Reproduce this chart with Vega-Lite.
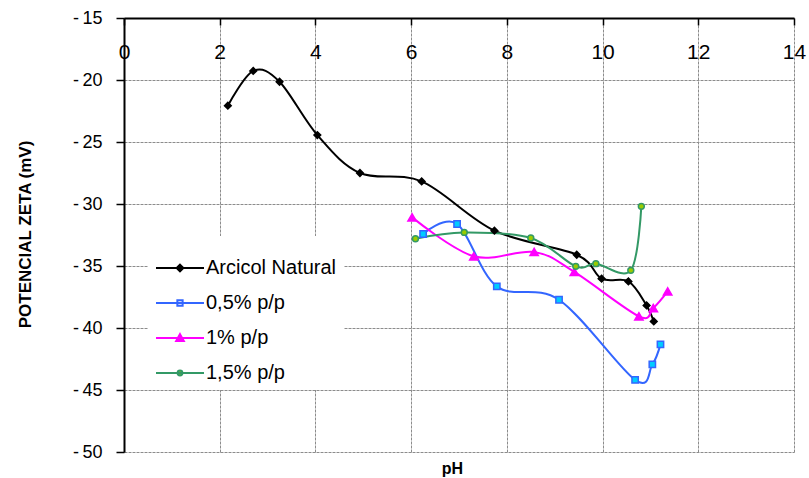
{
  "$schema": "https://vega.github.io/schema/vega-lite/v6.json",
  "width": 670,
  "height": 434,
  "autosize": {"type": "none"},
  "padding": {"left": 124, "top": 18, "right": 15, "bottom": 26},
  "background": "white",
  "config": {"view": {"stroke": null}, "font": "Liberation Sans"},
  "data": {
    "values": [
      {"serie": "Arcicol Natural", "pH": 2.17, "zeta": -22.07},
      {"serie": "Arcicol Natural", "pH": 2.70, "zeta": -19.27},
      {"serie": "Arcicol Natural", "pH": 3.25, "zeta": -20.14},
      {"serie": "Arcicol Natural", "pH": 4.04, "zeta": -24.44},
      {"serie": "Arcicol Natural", "pH": 4.93, "zeta": -27.50},
      {"serie": "Arcicol Natural", "pH": 6.22, "zeta": -28.18},
      {"serie": "Arcicol Natural", "pH": 7.74, "zeta": -32.15},
      {"serie": "Arcicol Natural", "pH": 9.46, "zeta": -34.09},
      {"serie": "Arcicol Natural", "pH": 9.98, "zeta": -36.02},
      {"serie": "Arcicol Natural", "pH": 10.54, "zeta": -36.24},
      {"serie": "Arcicol Natural", "pH": 10.92, "zeta": -38.18},
      {"serie": "Arcicol Natural", "pH": 11.07, "zeta": -39.47},
      {"serie": "0,5% p/p", "pH": 6.25, "zeta": -32.42},
      {"serie": "0,5% p/p", "pH": 6.96, "zeta": -31.61},
      {"serie": "0,5% p/p", "pH": 7.79, "zeta": -36.64},
      {"serie": "0,5% p/p", "pH": 9.09, "zeta": -37.72},
      {"serie": "0,5% p/p", "pH": 10.68, "zeta": -44.19},
      {"serie": "0,5% p/p", "pH": 11.04, "zeta": -42.94},
      {"serie": "0,5% p/p", "pH": 11.21, "zeta": -41.32},
      {"serie": "1% p/p", "pH": 6.02, "zeta": -31.08},
      {"serie": "1% p/p", "pH": 7.31, "zeta": -34.22},
      {"serie": "1% p/p", "pH": 8.57, "zeta": -33.87},
      {"serie": "1% p/p", "pH": 9.41, "zeta": -35.48},
      {"serie": "1% p/p", "pH": 10.76, "zeta": -39.06},
      {"serie": "1% p/p", "pH": 11.06, "zeta": -38.39},
      {"serie": "1% p/p", "pH": 11.36, "zeta": -37.05},
      {"serie": "1,5% p/p", "pH": 6.09, "zeta": -32.80},
      {"serie": "1,5% p/p", "pH": 7.11, "zeta": -32.29},
      {"serie": "1,5% p/p", "pH": 8.50, "zeta": -32.74},
      {"serie": "1,5% p/p", "pH": 9.44, "zeta": -35.03},
      {"serie": "1,5% p/p", "pH": 9.86, "zeta": -34.81},
      {"serie": "1,5% p/p", "pH": 10.59, "zeta": -35.35},
      {"serie": "1,5% p/p", "pH": 10.81, "zeta": -30.19}
    ]
  },
  "encoding": {
    "x": {
      "field": "pH",
      "type": "quantitative",
      "scale": {"domain": [0, 14], "nice": false, "zero": false},
      "axis": {
        "orient": "top",
        "values": [0, 2, 4, 6, 8, 10, 12, 14],
        "title": "pH",
        "titleFontSize": 16,
        "titleFontWeight": "bold",
        "titleColor": "black",
        "titleX": 328,
        "titleY": 450,
        "titleAlign": "center",
        "titleBaseline": "middle",
        "titleAngle": 0,
        "labelFontSize": 21,
        "labelColor": "black",
        "labelFlush": false,
        "labelOverlap": false,
        "labelBaseline": "middle",
        "labelPadding": -27,
        "tickSize": -7,
        "tickColor": "black",
        "tickWidth": 1.5,
        "domainColor": "black",
        "domainWidth": 2,
        "grid": true,
        "gridColor": "#8c8c8c",
        "gridDash": [3, 1],
        "gridWidth": 1
      }
    },
    "y": {
      "field": "zeta",
      "type": "quantitative",
      "scale": {"domain": [-50, -15], "nice": false, "zero": false},
      "axis": {
        "values": [-50, -45, -40, -35, -30, -25, -20, -15],
        "labelExpr": "replace(datum.label, '\u2212', '-\u2009')",
        "title": "POTENCIAL ZETA (mV)",
        "titleFontSize": 17,
        "titleFontWeight": "bold",
        "titleColor": "black",
        "titleX": -99,
        "titleY": 216,
        "titleAlign": "center",
        "titleBaseline": "middle",
        "titleAngle": -90,
        "labelFontSize": 18,
        "labelColor": "black",
        "labelPadding": 14,
        "labelFlush": false,
        "labelOverlap": false,
        "tickSize": 8,
        "tickColor": "black",
        "tickWidth": 1.5,
        "domainColor": "black",
        "domainWidth": 2,
        "grid": true,
        "gridColor": "#8c8c8c",
        "gridDash": [3, 1],
        "gridWidth": 1
      }
    },
    "stroke": {
      "field": "serie",
      "type": "nominal",
      "scale": {
        "domain": ["Arcicol Natural", "0,5% p/p", "1% p/p", "1,5% p/p"],
        "range": ["#000000", "#3366ff", "#ff00ff", "#339966"]
      },
      "legend": {
        "title": null,
        "orient": "none",
        "legendX": 24,
        "legendY": 218,
        "fillColor": "white",
        "padding": 7,
        "symbolSize": 2304,
        "symbolStrokeWidth": 2,
        "symbolType": "M-1,0H1",
        "labelFontSize": 20,
        "labelFont": "Liberation Sans",
        "labelColor": "black",
        "labelOffset": 1,
        "rowPadding": 0,
        "encode": {
          "symbols": {
            "update": {
              "shape": [
                {"test": "datum.value === 'Arcicol Natural'", "value": "M-1,0H1M0,-0.14L0.14,0L0,0.14L-0.14,0Z"},
                {"test": "datum.value === '0,5% p/p'", "value": "M-1,0H1M-0.11,-0.11H0.11V0.11H-0.11Z"},
                {"test": "datum.value === '1% p/p'", "value": "M-1,0H1M0,-0.16L0.16,0.13H-0.16Z"},
                {"value": "M-1,0H1M-0.1,0A0.1,0.1,0,1,0,0.1,0A0.1,0.1,0,1,0,-0.1,0Z"}
              ],
              "fill": [
                {"test": "datum.value === 'Arcicol Natural'", "value": "#000000"},
                {"test": "datum.value === '0,5% p/p'", "value": "#ffffff"},
                {"test": "datum.value === '1% p/p'", "value": "#ff00ff"},
                {"value": "#99cc00"}
              ],
              "fillOpacity": {"value": 1}
            }
          }
        }
      }
    }
  },
  "layer": [
    {
      "mark": {"type": "line", "interpolate": "cardinal", "strokeWidth": 2}
    },
    {
      "transform": [{"filter": "datum.serie === 'Arcicol Natural'"}],
      "mark": {"type": "point", "shape": "diamond", "size": 45, "fill": "#000000", "fillOpacity": 1, "strokeWidth": 1.5, "opacity": 1}
    },
    {
      "transform": [{"filter": "datum.serie === '0,5% p/p'"}],
      "mark": {"type": "point", "shape": "square", "size": 40, "fill": "#00ccff", "fillOpacity": 1, "strokeWidth": 1.5, "opacity": 1}
    },
    {
      "transform": [{"filter": "datum.serie === '1% p/p'"}],
      "mark": {"type": "point", "shape": "triangle-up", "size": 70, "fill": "#ff00ff", "fillOpacity": 1, "strokeWidth": 1.5, "opacity": 1}
    },
    {
      "transform": [{"filter": "datum.serie === '1,5% p/p'"}],
      "mark": {"type": "point", "shape": "circle", "size": 35, "fill": "#99cc00", "fillOpacity": 1, "strokeWidth": 1.5, "opacity": 1}
    }
  ]
}
